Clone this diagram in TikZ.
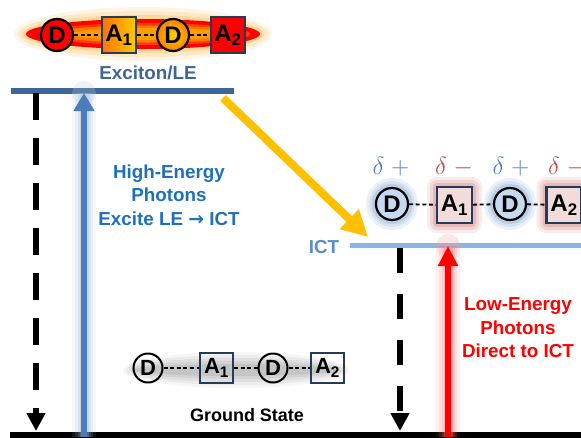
\documentclass[tikz,border=0pt]{standalone}
\usepackage{fontspec}
\setmainfont{Liberation Sans}
\newfontfamily\djvfont{DejaVu Sans}
\usetikzlibrary{arrows.meta}
\definecolor{lvlblue}{HTML}{3F6594}
\definecolor{arrblue}{HTML}{4A7EBB}
\definecolor{txtblue}{HTML}{1F70BA}
\definecolor{ictblue}{HTML}{8EB4E3}
\definecolor{ictlbl}{HTML}{5B8DCB}
\definecolor{ambr}{HTML}{FFC000}
\definecolor{navy}{HTML}{243B5A}
\definecolor{dfill}{HTML}{C6D9F1}
\definecolor{afill}{HTML}{F2DCDB}
\definecolor{dplus}{HTML}{4F81BD}
\definecolor{dminus}{HTML}{C0504D}
\tikzset{
  dnode/.style={circle, draw=black, line width=2.2pt, minimum size=32pt, inner sep=0pt,
    font=\fontsize{24}{24}\selectfont\bfseries},
  anode/.style={rectangle, draw=navy, line width=2.2pt, minimum width=34pt, minimum height=36pt,
    inner sep=0pt, font=\fontsize{24}{24}\selectfont\bfseries},
  gdnode/.style={dnode, line width=2pt, minimum size=29pt, font=\fontsize{22}{22}\selectfont\bfseries},
  ganode/.style={anode, line width=2pt, minimum width=33pt, minimum height=30pt, font=\fontsize{22}{22}\selectfont\bfseries},
  bond/.style={draw=black, line width=1.8pt, dash pattern=on 4pt off 2.6pt},
  lbl/.style={font=\fontsize{18.8}{23.5}\selectfont\bfseries, align=center},
  level/.style={line width=6pt},
  delta/.style={font=\fontsize{26}{26}\selectfont},
  decay/.style={line width=6pt, -{Triangle[width=18pt,length=18pt]}},
}
\begin{document}
\begin{tikzpicture}[x=1pt,y=-1pt]
\useasboundingbox (0,0) rectangle (581,437);
\clip (0,0) rectangle (581,437);

% ---------- top (exciton) molecule ----------
\foreach \d/\o in {12/0.10,8/0.14,4/0.2}
  \fill[orange!80!yellow, opacity=\o] (143,34) ellipse ({117+\d} and {15+\d});
\fill[red] (143,34) ellipse (117 and 15);
\fill[orange!70!red, opacity=0.7] (146,34) ellipse (104 and 11);
\fill[orange!85!yellow, opacity=0.7] (148,34) ellipse (96 and 8.5);
\fill[yellow!55!orange, opacity=0.5] (150,34) ellipse (80 and 6);

\node[dnode, fill=red] (eD1) at (57,35) {D};
\node[anode, left color=orange!90!red, right color=yellow!60!orange] (eA1) at (119,35) {A\textsubscript{1}};
\node[dnode, inner color=yellow!65!orange, outer color=orange] (eD2) at (173,35) {D};
\node[anode, fill=red] (eA2) at (228,35) {A\textsubscript{2}};
\draw[bond] (eD1) -- (eA1);
\draw[bond] (eA1) -- (eD2);
\draw[bond] (eD2) -- (eA2);

\node[lbl, text=lvlblue] (exlbl) at (148,73) {Exciton/LE};

% ---------- levels ----------
\coordinate (exL) at (11,90.5);
\coordinate (exR) at (234,90.5);
\draw[level, lvlblue] (exL) -- (exR);

\coordinate (ictL) at (350,245.5);
\coordinate (ictR) at (581,245.5);
\draw[level, line width=5pt, ictblue] (ictL) -- (ictR);
\node[lbl, text=ictlbl] (ictlbl) at (324,247) {ICT};

\coordinate (gL) at (10,434.5);
\coordinate (gR) at (581,434.5);
\draw[level, black] (gL) -- (gR);

% ---------- ground molecule ----------
\foreach \d/\o in {12/0.08,9/0.1,6/0.12,3/0.15,0/0.2}
  \fill[black!45, opacity=\o] (236,370) ellipse ({101+\d} and {6+\d});
\node[gdnode] (gD1) at (148,368) {D};
\node[ganode] (gA1) at (216.5,368) {A\textsubscript{1}};
\node[gdnode] (gD2) at (273,368) {D};
\node[ganode] (gA2) at (327.5,368) {A\textsubscript{2}};
\draw[bond] (gD1) -- (gA1);
\draw[bond] (gA1) -- (gD2);
\draw[bond] (gD2) -- (gA2);
\node[font=\fontsize{18}{18}\selectfont\bfseries] (gslbl) at (247,415) {Ground State};

% ---------- ICT molecule ----------
\coordinate (pD1) at (392,204);
\coordinate (pA1) at (454.5,205);
\coordinate (pD2) at (510,204);
\coordinate (pA2) at (564,205);
\foreach \p in {pD1,pD2}
  \foreach \d/\o in {10/0.15,7/0.2,4/0.3}
    \node[circle, fill=dplus!75, opacity=\o, minimum size={32+2*\d}, inner sep=0pt] at (\p) {};
\foreach \p in {pA1,pA2}
  \foreach \d/\o in {10/0.15,7/0.2,4/0.3}
    \node[rectangle, rounded corners=\d, fill=dminus!75, opacity=\o, minimum width={35+2*\d}, minimum height={36+2*\d}, inner sep=0pt] at (\p) {};
\node[dnode, fill=dfill] (iD1) at (pD1) {D};
\node[anode, fill=afill, minimum width=35pt] (iA1) at (pA1) {A\textsubscript{1}};
\node[dnode, fill=dfill] (iD2) at (pD2) {D};
\node[anode, fill=afill, minimum width=35pt] (iA2) at (pA2) {A\textsubscript{2}};
\draw[bond] (iD1) -- (iA1);
\draw[bond] (iA1) -- (iD2);
\draw[bond] (iD2) -- (iA2);

\node[delta, text=dplus] (dp1) at (391,167) {$\delta\;+$};
\node[delta, text=dminus] (dm1) at (454,167) {$\delta\;-$};
\node[delta, text=dplus] (dp2) at (511,167) {$\delta\;+$};
\node[delta, text=dminus] (dm2) at (567,167) {$\delta\;-$};

% ---------- transitions ----------
% left decay
\coordinate (lt) at (36,93);
\coordinate (lb) at (36,431);
\draw[decay, dash pattern=on 27pt off 18pt] (lt) -- (lb);
% right decay
\coordinate (rt) at (400,248);
\coordinate (rb) at (400,431);
\draw[decay, dash pattern=on 25pt off 21pt] (rt) -- (rb);

% blue absorption
\coordinate (bb) at (84,437);
\coordinate (bt) at (84,93);
\foreach \w/\o in {24/0.10,18/0.14,13/0.2,9/0.3}
  \draw[arrblue!55, line width=\w, opacity=\o] (bb) -- (bt);
\fill[arrblue!40, opacity=0.25] (bt) circle (12);
\draw[arrblue, line width=6pt, -{Triangle[width=20pt,length=18pt]}] (bb) -- (bt);
\node[lbl, text=txtblue] (hetxt) at (169,195) {High-Energy\\Photons\\Excite LE {\djvfont\bfseries →} ICT};

% red absorption
\coordinate (rrb) at (448,437);
\coordinate (rrt) at (448,246);
\foreach \w/\o in {24/0.10,18/0.14,13/0.2,9/0.3}
  \draw[red!55, line width=\w, opacity=\o] (rrb) -- (rrt);
\fill[red!40, opacity=0.25] (rrt) circle (12);
\draw[red, line width=6pt, -{Triangle[width=19pt,length=20pt]}] (rrb) -- (rrt);
\node[lbl, text=red] (letxt) at (518,328) {Low-Energy\\Photons\\Direct to ICT};

% yellow transfer
\coordinate (ys) at (223,98);
\coordinate (ye) at (368,237);
\draw[ambr, line width=8pt, -{Triangle[width=26pt,length=26pt]}] (ys) -- (ye);
\end{tikzpicture}
\end{document}
